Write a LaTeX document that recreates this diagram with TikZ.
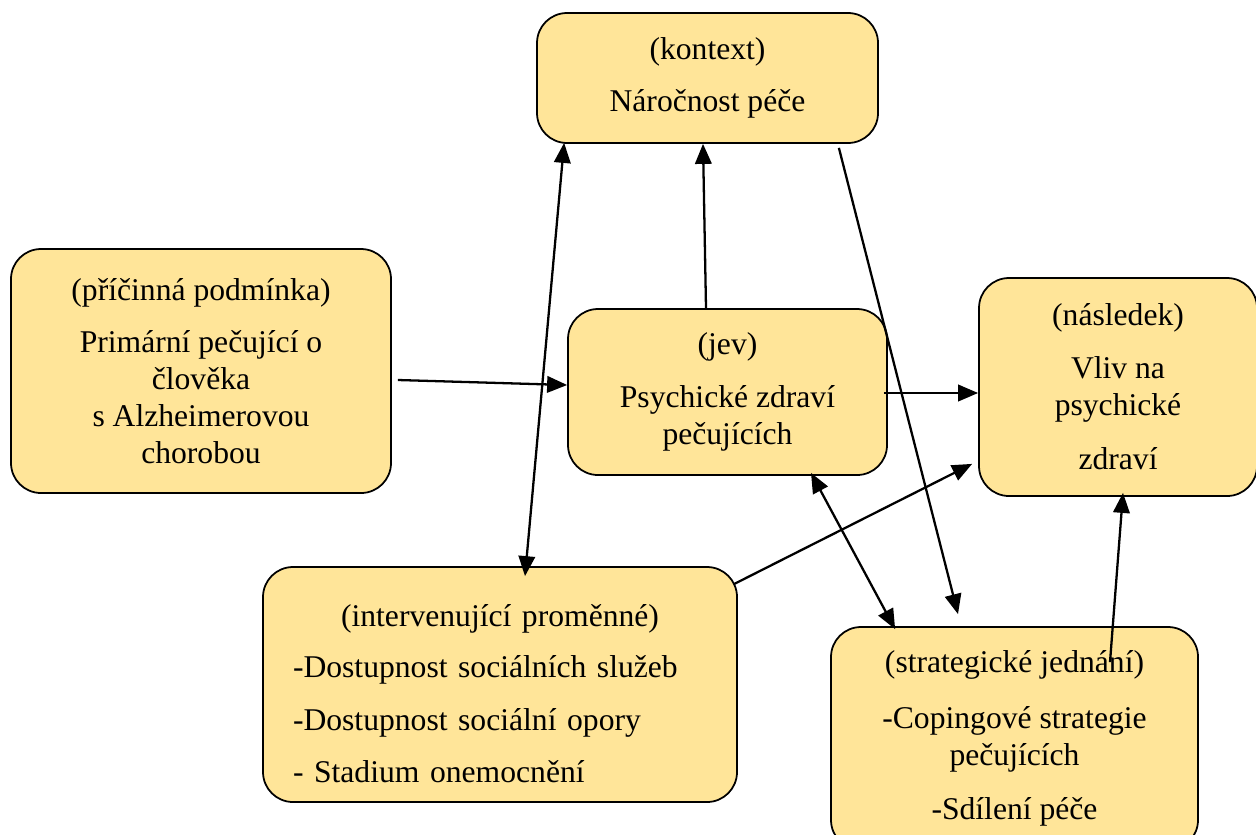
\documentclass[tikz,border=0pt]{standalone}
\usepackage{fontspec}
\setmainfont{Liberation Serif}
\usepackage{tikz}
\usetikzlibrary{
  positioning,
  arrows.meta,
  calc
}
\usepackage{xcolor}
\definecolor{boxfill}{HTML}{FFE599}

\begin{document}
\begin{tikzpicture}[
  box/.style={draw, rounded corners=0.6cm, fill=boxfill, line width=1pt, inner sep=0pt,
              font=\fontsize{18}{21}\selectfont, align=center},
  arr/.style={-{Triangle[length=4mm, width=3.3mm]}, line width=1.3pt},
  darr/.style={{Triangle[length=4mm, width=3.3mm]}-{Triangle[length=4mm, width=3.3mm]}, line width=1.3pt}
]
  \useasboundingbox (0,0) rectangle (25.12,-16.68);
  \clip (0,0) rectangle (25.12,-16.68);

  % Boxes
  \node[box, minimum width=6.82cm, minimum height=2.6cm] (kontext) at (14.15,-1.56)
    {(kontext)\\[9pt] Náročnost péče};
  \node[box, minimum width=7.6cm, minimum height=4.88cm] (pricina) at (4.02,-7.42)
    {(příčinná podmínka)\\[9pt] Primární pečující o\\ člověka\\ s Alzheimerovou\\ chorobou};
  \node[box, minimum width=6.38cm, minimum height=3.32cm] (jev) at (14.55,-7.84)
    {(jev)\\[9pt] Psychické zdraví\\ pečujících};
  \node[box, minimum width=5.56cm, minimum height=4.36cm] (nasledek) at (22.36,-7.74)
    {(následek)\\[9pt] Vliv na\\ psychické\\[10pt] zdraví};
  \node[box, align=left, text width=8.28cm, minimum width=9.48cm, minimum height=4.7cm] (interv) at (10,-13.69)
    {\centering\rule{0pt}{23pt}(intervenující proměnné)\par\vspace{8pt}\raggedright
     -Dostupnost sociálních služeb\\[9pt] -Dostupnost sociální opory\\[9pt] - Stadium onemocnění\par};
  \node[box, minimum width=7.34cm, minimum height=4.46cm] (strateg) at (20.29,-14.77)
    {(strategické jednání)\\[11pt] -Copingové strategie\\ pečujících\\[10pt] -Sdílení péče};

  % Connectors
  \draw[arr] ([xshift=0.12cm, yshift=-0.18cm]pricina.east) -- ([yshift=0.14cm]jev.west);
  \draw[arr] ([xshift=-0.43cm]jev.north) -- ([xshift=-0.09cm]kontext.south);
  \draw[darr] ([xshift=0.56cm, yshift=0.02cm]kontext.south west) -- ([xshift=0.5cm, yshift=-0.2cm]interv.north);
  \draw[arr] ([xshift=-0.8cm, yshift=-0.08cm]kontext.south east) -- ([xshift=-1.13cm, yshift=0.24cm]strateg.north);
  \draw[darr] ([xshift=1.67cm, yshift=0.06cm]jev.south) -- ([xshift=1.3cm, yshift=-0.06cm]strateg.north west);
  \draw[arr] ([xshift=-0.08cm, yshift=-0.02cm]jev.east) -- ([yshift=-0.12cm]nasledek.west);
  \draw[arr] ([xshift=-0.08cm, yshift=-0.36cm]interv.north east) -- ([xshift=-0.12cm, yshift=0.66cm]nasledek.south west);
  \draw[arr] ([xshift=1.91cm, yshift=-0.72cm]strateg.north) -- ([xshift=0.1cm, yshift=0.08cm]nasledek.south);
\end{tikzpicture}
\end{document}
